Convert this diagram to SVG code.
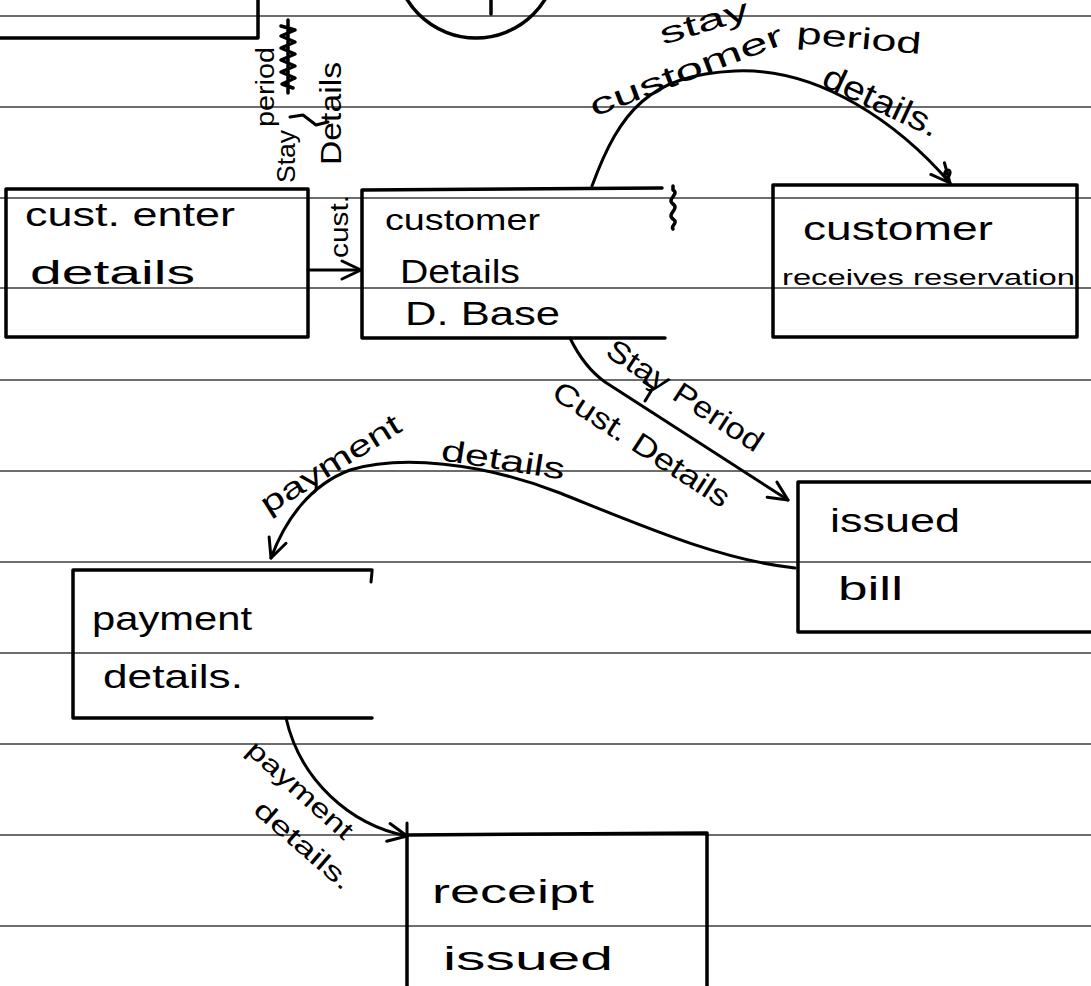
<svg xmlns="http://www.w3.org/2000/svg" width="1091" height="986" viewBox="0 0 1091 986">
<style>
.rule{stroke:#3c3c3c;stroke-width:1.3;fill:none}
.pen{stroke:#000;stroke-width:3.5;fill:none;stroke-linecap:round;stroke-linejoin:round}
.con{stroke:#000;stroke-width:3;fill:none;stroke-linecap:round;stroke-linejoin:round}
text{font-family:"Liberation Sans","DejaVu Sans",sans-serif;fill:#000}
.t{font-size:34px}
.s{font-size:30px}
.v{font-size:26px}
</style>
<defs>
<marker id="arr" viewBox="0 0 24 24" refX="22" refY="12" markerWidth="24" markerHeight="24" markerUnits="userSpaceOnUse" orient="auto">
<path d="M3,3 L22,12 L3,21" fill="none" stroke="#000" stroke-width="3" stroke-linecap="round" stroke-linejoin="round"/>
</marker>
</defs>
<rect width="1091" height="986" fill="#fff"/>
<g id="ruled-lines">
<line class="rule" x1="0" y1="16" x2="1091" y2="16"/>
<line class="rule" x1="0" y1="107" x2="1091" y2="107"/>
<line class="rule" x1="0" y1="198" x2="1091" y2="198"/>
<line class="rule" x1="0" y1="288" x2="1091" y2="288"/>
<line class="rule" x1="0" y1="380" x2="1091" y2="380"/>
<line class="rule" x1="0" y1="471" x2="1091" y2="471"/>
<line class="rule" x1="0" y1="562" x2="1091" y2="562"/>
<line class="rule" x1="0" y1="653" x2="1091" y2="653"/>
<line class="rule" x1="0" y1="744" x2="1091" y2="744"/>
<line class="rule" x1="0" y1="835" x2="1091" y2="835"/>
<line class="rule" x1="0" y1="926" x2="1091" y2="926"/>
</g>
<g id="top-box">
<path class="pen" d="M0,38 L258,38 L258,0"/>
</g>
<g id="top-circle">
<circle class="pen" cx="476" cy="-43" r="81"/>
<line class="pen" x1="491" y1="0" x2="491" y2="14"/>
</g>
<g id="cust-enter-details">
<rect class="pen" x="6" y="189" width="302" height="148"/>
<text class="t" x="25" y="226" textLength="210" lengthAdjust="spacingAndGlyphs">cust. enter</text>
<text class="t" x="30" y="284" textLength="165" lengthAdjust="spacingAndGlyphs">details</text>
</g>
<g id="customer-details-dbase">
<path class="pen" d="M662,188 L362,190 L362,338 L665,338"/>
<path class="pen" d="M673,186 L673,190 C680,194 666,199 673,204 C680,209 666,214 673,219 C679,223 670,226 673,229"/>
<text class="s" x="385" y="230" textLength="155" lengthAdjust="spacingAndGlyphs">customer</text>
<text class="t" x="400" y="283" textLength="120" lengthAdjust="spacingAndGlyphs">Details</text>
<text class="t" x="405" y="325" textLength="155" lengthAdjust="spacingAndGlyphs">D. Base</text>
</g>
<g id="customer-receives-reservation">
<rect class="pen" x="773" y="185" width="304" height="152"/>
<text class="t" x="803" y="240" textLength="190" lengthAdjust="spacingAndGlyphs">customer</text>
<text x="782" y="285" font-size="22" textLength="293" lengthAdjust="spacingAndGlyphs">receives reservation</text>
</g>
<g id="issued-bill">
<path class="pen" d="M1091,482 L798,482 L798,632 L1091,632"/>
<text class="t" x="830" y="532" textLength="130" lengthAdjust="spacingAndGlyphs">issued</text>
<text class="t" x="838" y="600" textLength="65" lengthAdjust="spacingAndGlyphs">bill</text>
</g>
<g id="payment-details">
<path class="pen" d="M372,570 L73,570 L73,718 L372,718"/>
<line class="con" x1="372" y1="572" x2="371" y2="582"/>
<text class="t" x="92" y="630" textLength="160" lengthAdjust="spacingAndGlyphs">payment</text>
<text class="t" x="103" y="688" textLength="140" lengthAdjust="spacingAndGlyphs">details.</text>
</g>
<g id="receipt-issued">
<path class="pen" d="M407,986 L407,835 L707,833 L707,986"/>
<text class="t" x="432" y="903" textLength="162" lengthAdjust="spacingAndGlyphs">receipt</text>
<text class="t" x="443" y="970" textLength="170" lengthAdjust="spacingAndGlyphs">issued</text>
</g>
<g id="connectors">
<line class="con" x1="308" y1="270" x2="361" y2="270" marker-end="url(#arr)"/>
<path class="con" d="M592,186 C620,110 650,75 735,71 C820,67 900,125 950,183" marker-end="url(#arr)"/>
<path class="con" d="M946,178 C940,170 954,166 949,176"/>
<path class="con" d="M570,338 Q584,367 605,382 L788,500" marker-end="url(#arr)"/>
<path class="con" d="M795,568 C720,560 640,525 560,493 C480,462 400,455 350,470 C310,485 285,520 271,558" marker-end="url(#arr)"/>
<path class="con" d="M286,718 C300,780 350,825 407,836" marker-end="url(#arr)"/>
<line class="con" x1="407" y1="823" x2="407" y2="836"/>
<path class="pen" d="M288,20 L288,93 M281,26 L295,30 L281,36 L295,42 L281,48 L295,54 L281,60 L295,66 L281,72 L295,78 L282,84 L293,88"/>
<path class="con" d="M290,117 L303,115 L316,125 L328,122"/>
<path class="con" d="M644,382 L653,388 L645,401"/>
</g>
<g id="connector-labels">
<text class="v" transform="translate(348,258) rotate(-90)" textLength="63" lengthAdjust="spacingAndGlyphs">cust.</text>
<text class="s" transform="translate(341,165) rotate(-90)" textLength="103" lengthAdjust="spacingAndGlyphs">Details</text>
<text class="v" transform="translate(295,183) rotate(-90)" textLength="53" lengthAdjust="spacingAndGlyphs">Stay</text>
<text class="v" transform="translate(274,127) rotate(-90)" textLength="80" lengthAdjust="spacingAndGlyphs">period</text>
<text class="s" transform="translate(663,45) rotate(-17)" textLength="92" lengthAdjust="spacingAndGlyphs">stay</text>
<text class="s" transform="translate(796,43) rotate(5)" textLength="125" lengthAdjust="spacingAndGlyphs">period</text>
<text class="s" transform="translate(594,117) rotate(-21)" textLength="205" lengthAdjust="spacingAndGlyphs">customer</text>
<text class="t" transform="translate(820,85) rotate(25)" textLength="125" lengthAdjust="spacingAndGlyphs">details.</text>
<text class="s" transform="translate(604,355) rotate(33)" textLength="180" lengthAdjust="spacingAndGlyphs">Stay Period</text>
<text class="s" transform="translate(550,397) rotate(33)" textLength="205" lengthAdjust="spacingAndGlyphs">Cust. Details</text>
<text class="s" transform="translate(268,515) rotate(-32)" textLength="160" lengthAdjust="spacingAndGlyphs">payment</text>
<text class="s" transform="translate(440,460) rotate(9)" textLength="125" lengthAdjust="spacingAndGlyphs">details</text>
<text class="v" transform="translate(245,752) rotate(42)" textLength="133" lengthAdjust="spacingAndGlyphs">payment</text>
<text class="v" transform="translate(252,812) rotate(41)" textLength="121" lengthAdjust="spacingAndGlyphs">details.</text>
</g>
</svg>
